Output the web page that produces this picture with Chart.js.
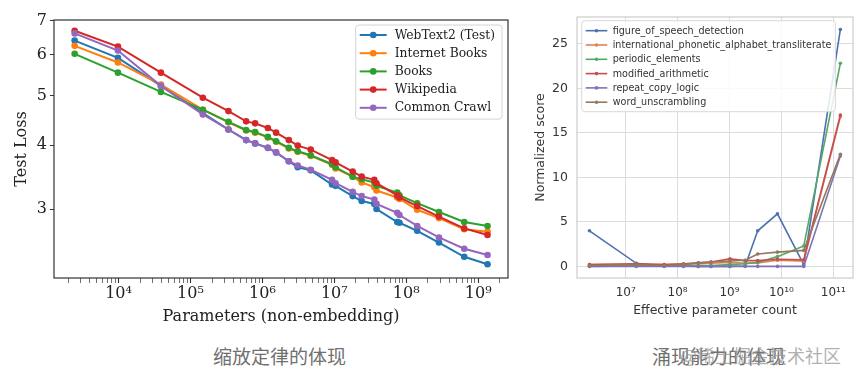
<!DOCTYPE html>
<html>
<head>
<meta charset="utf-8">
<script src="https://cdn.jsdelivr.net/npm/chart.js@4.4.1/dist/chart.umd.min.js"></script>
<style>
body{margin:0;background:#fff;width:863px;height:380px;overflow:hidden;position:relative}
#lossChart{position:absolute;left:0;top:0;width:520px;height:340px}
#emergeChart{position:absolute;left:520px;top:0;width:343px;height:340px}
.cap{position:absolute;font-family:"Noto Sans CJK SC";font-size:19px;line-height:19px;color:#707070;white-space:nowrap}
</style>
</head>
<body>
<canvas id="lossChart" width="520" height="340"></canvas>
<canvas id="emergeChart" width="343" height="340"></canvas>
<div class="cap" style="left:213px;top:346px">缩放定律的体现</div>
<div class="cap" style="left:652px;top:346px">涌现能力的体现</div>
<div class="cap" style="left:680px;top:346px;font-size:18px;color:rgba(150,150,150,0.75)">@稀土掘金技术社区</div>
<script>
// left chart: test loss vs parameters
var paramCounts = [2450, 9800, 38800, 148600, 337000, 594000, 792000, 1.19e6, 1.55e6, 2.33e6, 3.1e6, 4.7e6,
    9.3e6, 1.04e7, 1.8e7, 2.4e7, 3.6e7, 3.86e7, 7.5e7, 8.05e7, 1.42e8, 2.85e8, 6.4e8, 1.35e9];
var webText2 = [6.40, 5.92, 5.22, 4.62, 4.29, 4.09, 4.03, 3.95, 3.87, 3.72, 3.62, 3.57,
    3.35, 3.33, 3.18, 3.11, 3.07, 3.00, 2.83, 2.82, 2.72, 2.58, 2.42, 2.34];
var internetBooks = [6.25, 5.80, 5.25, 4.69, 4.43, 4.27, 4.23, 4.14, 4.06, 3.94, 3.88, 3.81,
    3.66, 3.60, 3.47, 3.38, 3.31, 3.26, 3.16, 3.14, 2.99, 2.88, 2.74, 2.71];
var books = [6.03, 5.54, 5.08, 4.69, 4.44, 4.28, 4.24, 4.15, 4.07, 3.95, 3.89, 3.82,
    3.67, 3.62, 3.47, 3.43, 3.38, 3.33, 3.23, 3.19, 3.08, 2.96, 2.83, 2.78];
var wikipedia = [6.69, 6.23, 5.54, 4.95, 4.66, 4.45, 4.41, 4.32, 4.23, 4.09, 3.99, 3.92,
    3.74, 3.70, 3.55, 3.47, 3.42, 3.37, 3.19, 3.16, 3.04, 2.90, 2.75, 2.67];
var commonCrawl = [6.61, 6.12, 5.22, 4.59, 4.29, 4.09, 4.03, 3.95, 3.87, 3.72, 3.65, 3.58,
    3.42, 3.37, 3.24, 3.18, 3.13, 3.07, 2.95, 2.92, 2.78, 2.64, 2.51, 2.44];
var lossTicks = [3, 4, 5, 6, 7];

// right chart: normalized score vs effective parameter count
var effParams = [2e6, 1.6e7, 5.5e7, 1.3e8, 2.5e8, 4.4e8, 1.02e9, 2.0e9, 3.5e9, 8.4e9, 2.7e10, 1.37e11];
var figureOfSpeech = [4.0, 0.35, 0.05, 0.05, 0.0, 0.0, 0.0, 0.05, 4.0, 5.9, 0.2, 26.6];
var phoneticTranslit = [0.2, 0.25, 0.2, 0.25, 0.3, 0.35, 0.45, 0.35, 0.4, 0.7, 0.6, 16.8];
var periodicElements = [0.0, 0.05, 0.05, 0.05, 0.1, 0.1, 0.2, 0.3, 0.45, 1.1, 2.3, 22.8];
var modifiedArithmetic = [0.2, 0.3, 0.2, 0.3, 0.4, 0.5, 0.85, 0.65, 0.65, 0.8, 0.75, 17.0];
var repeatCopyLogic = [0, 0, 0, 0, 0, 0, 0, 0, 0, 0, 0, 12.4];
var wordUnscrambling = [0.1, 0.2, 0.1, 0.2, 0.4, 0.5, 0.6, 0.7, 1.4, 1.6, 1.8, 12.6];
var scoreTicks = [0, 5, 10, 15, 20, 25];

var SUP = '⁰¹²³⁴⁵⁶⁷⁸⁹';
function pow10Label(v) {
    var e = Math.log10(v);
    if (Math.abs(e - Math.round(e)) > 1e-6) return '';
    return '10' + String(Math.round(e)).split('').map(d => SUP[d]).join('');
}
function xy(xs, ys) {
    return xs.map((x, i) => ({x: x, y: ys[i]}));
}

// frame around the plot and a legend inside it
var frameAndLegend = {
    id: 'frameAndLegend',
    afterDatasetsDraw(chart, args, opts) {
        var ctx = chart.ctx, a = chart.chartArea, L = opts.legend;
        ctx.save();
        ctx.strokeStyle = opts.frameColor;
        ctx.lineWidth = opts.frameWidth;
        ctx.strokeRect(a.left, a.top, a.right - a.left, a.bottom - a.top);

        var sets = chart.data.datasets;
        ctx.font = L.fontSize + 'px "' + L.fontFamily + '"';
        var textW = Math.max(...sets.map(d => ctx.measureText(d.label).width));
        var w = L.pad + L.lineLen + L.gap + textW + L.padRight;
        var h = L.firstRow + L.row * (sets.length - 1) + L.lastPad;
        var x = L.alignRight ? a.right - L.marginX - w : a.left + L.marginX;
        var y = a.top + L.marginY;
        ctx.beginPath();
        if (ctx.roundRect) ctx.roundRect(x, y, w, h, 3); else ctx.rect(x, y, w, h);
        ctx.fillStyle = 'rgba(255,255,255,0.85)';
        ctx.fill();
        ctx.strokeStyle = L.borderColor;
        ctx.lineWidth = 1;
        ctx.stroke();
        sets.forEach((d, i) => {
            var cy = y + L.firstRow + i * L.row;
            ctx.strokeStyle = d.borderColor;
            ctx.lineWidth = d.borderWidth;
            ctx.beginPath();
            ctx.moveTo(x + L.pad, cy);
            ctx.lineTo(x + L.pad + L.lineLen, cy);
            ctx.stroke();
            ctx.fillStyle = d.borderColor;
            ctx.beginPath();
            ctx.arc(x + L.pad + L.lineLen / 2, cy, d.pointRadius, 0, Math.PI * 2);
            ctx.fill();
            ctx.fillStyle = L.color;
            ctx.textBaseline = 'middle';
            ctx.textAlign = 'left';
            ctx.fillText(d.label, x + L.pad + L.lineLen + L.gap, cy + 0.5);
        });
        ctx.restore();
    }
};

var lossSeries = [
    ['WebText2 (Test)', webText2, '#1f77b4'],
    ['Internet Books', internetBooks, '#ff7f0e'],
    ['Books', books, '#2ca02c'],
    ['Wikipedia', wikipedia, '#d62728'],
    ['Common Crawl', commonCrawl, '#9467bd']
];
var serif = 'DejaVu Serif';

new Chart(document.getElementById('lossChart'), {
    type: 'line',
    data: {
        datasets: lossSeries.map((s, i) => ({
            label: s[0],
            data: xy(paramCounts, s[1]),
            borderColor: s[2],
            backgroundColor: s[2],
            pointBackgroundColor: s[2],
            borderWidth: 2,
            pointRadius: 3.3,
            pointBorderWidth: 0,
            order: lossSeries.length - i
        }))
    },
    options: {
        responsive: false,
        animation: false,
        events: [],
        layout: {padding: {top: 20, right: 12, left: 0, bottom: 0}},
        plugins: {
            legend: {display: false},
            tooltip: {enabled: false},
            frameAndLegend: {
                frameColor: '#333', frameWidth: 1.2,
                legend: {pad: 4, lineLen: 27, gap: 8, padRight: 7, firstRow: 10, row: 18.2, lastPad: 11.3,
                    marginX: 6, marginY: 5, alignRight: true, fontSize: 12.3, fontFamily: serif,
                    color: '#222', borderColor: '#d4d4d4'}
            }
        },
        scales: {
            x: {
                type: 'logarithmic',
                min: 1265,
                max: 2.6e9,
                afterBuildTicks: function(scale) {
                    var t = [];
                    for (var e = 3; e <= 9; e++) {
                        for (var m = 1; m <= 9; m++) {
                            var v = m * Math.pow(10, e);
                            if (v >= scale.min && v <= scale.max) t.push({value: v, major: m === 1});
                        }
                    }
                    scale.ticks = t;
                },
                afterFit: function(scale) { scale.height = 62; },
                ticks: {
                    autoSkip: false, maxRotation: 0, padding: 1, color: '#222',
                    font: {family: serif, size: 16},
                    callback: v => pow10Label(v)
                },
                grid: {drawOnChartArea: false, tickLength: 5, color: '#333',
                    tickWidth: ctx => (ctx.tick && ctx.tick.major ? 1.1 : 0.7)},
                border: {display: false},
                title: {display: true, text: 'Parameters (non-embedding)', color: '#222',
                    font: {family: serif, size: 16}, padding: {top: 0, bottom: 14}}
            },
            y: {
                type: 'logarithmic',
                min: 2.22,
                max: 7.02,
                afterBuildTicks: function(scale) {
                    scale.ticks = lossTicks.map(v => ({value: v}));
                },
                afterFit: function(scale) { scale.width = 54; },
                ticks: {padding: 3, color: '#222', font: {family: serif, size: 16},
                    callback: v => String(v)},
                grid: {drawOnChartArea: false, tickLength: 4, color: '#333'},
                border: {display: false},
                title: {display: true, text: 'Test Loss', color: '#222',
                    font: {family: serif, size: 16}, padding: {top: 12, bottom: 0}}
            }
        }
    },
    plugins: [frameAndLegend]
});

var scoreSeries = [
    ['figure_of_speech_detection', figureOfSpeech, '#4c72b0'],
    ['international_phonetic_alphabet_transliterate', phoneticTranslit, '#dd8452'],
    ['periodic_elements', periodicElements, '#55a868'],
    ['modified_arithmetic', modifiedArithmetic, '#c44e52'],
    ['repeat_copy_logic', repeatCopyLogic, '#8172b3'],
    ['word_unscrambling', wordUnscrambling, '#937860']
];
var sans = 'DejaVu Sans';

new Chart(document.getElementById('emergeChart'), {
    type: 'line',
    data: {
        datasets: scoreSeries.map((s, i) => ({
            label: s[0],
            data: xy(effParams, s[1]),
            borderColor: s[2],
            backgroundColor: s[2],
            pointBackgroundColor: s[2],
            borderWidth: 1.6,
            pointRadius: 1.8,
            pointBorderWidth: 0,
            order: scoreSeries.length - i
        }))
    },
    options: {
        responsive: false,
        animation: false,
        events: [],
        layout: {padding: {top: 17, right: 10, left: 0, bottom: 0}},
        plugins: {
            legend: {display: false},
            tooltip: {enabled: false},
            frameAndLegend: {
                frameColor: '#cccccc', frameWidth: 1.2,
                legend: {pad: 4, lineLen: 21.6, gap: 5.4, padRight: 4, firstRow: 10, row: 14.3, lastPad: 9.5,
                    marginX: 4.7, marginY: 3.7, alignRight: false, fontSize: 9.6, fontFamily: sans,
                    color: '#333', borderColor: '#d8d8d8'}
            }
        },
        scales: {
            x: {
                type: 'logarithmic',
                min: 1.15e6,
                max: 2.4e11,
                afterBuildTicks: function(scale) {
                    var t = [];
                    for (var e = 7; e <= 11; e++) t.push({value: Math.pow(10, e), major: true});
                    scale.ticks = t;
                },
                afterFit: function(scale) { scale.height = 62; },
                ticks: {autoSkip: false, maxRotation: 0, padding: 8, color: '#333',
                    font: {family: sans, size: 12}, callback: v => pow10Label(v)},
                grid: {drawTicks: false, color: '#dcdcdc', lineWidth: 1},
                border: {display: false},
                title: {display: true, text: 'Effective parameter count', color: '#333',
                    font: {family: sans, size: 12.5}, padding: {top: 0, bottom: 22}}
            },
            y: {
                type: 'linear',
                min: -1.3,
                max: 28,
                afterBuildTicks: function(scale) {
                    scale.ticks = scoreTicks.map(v => ({value: v}));
                },
                afterFit: function(scale) { scale.width = 57; },
                ticks: {padding: 9, color: '#333', font: {family: sans, size: 12.5}},
                grid: {drawTicks: false, color: '#dcdcdc', lineWidth: 1},
                border: {display: false},
                title: {display: true, text: 'Normalized score', color: '#333',
                    font: {family: sans, size: 12.5}, padding: {top: 13, bottom: 0}}
            }
        }
    },
    plugins: [frameAndLegend]
});
</script>
</body>
</html>
